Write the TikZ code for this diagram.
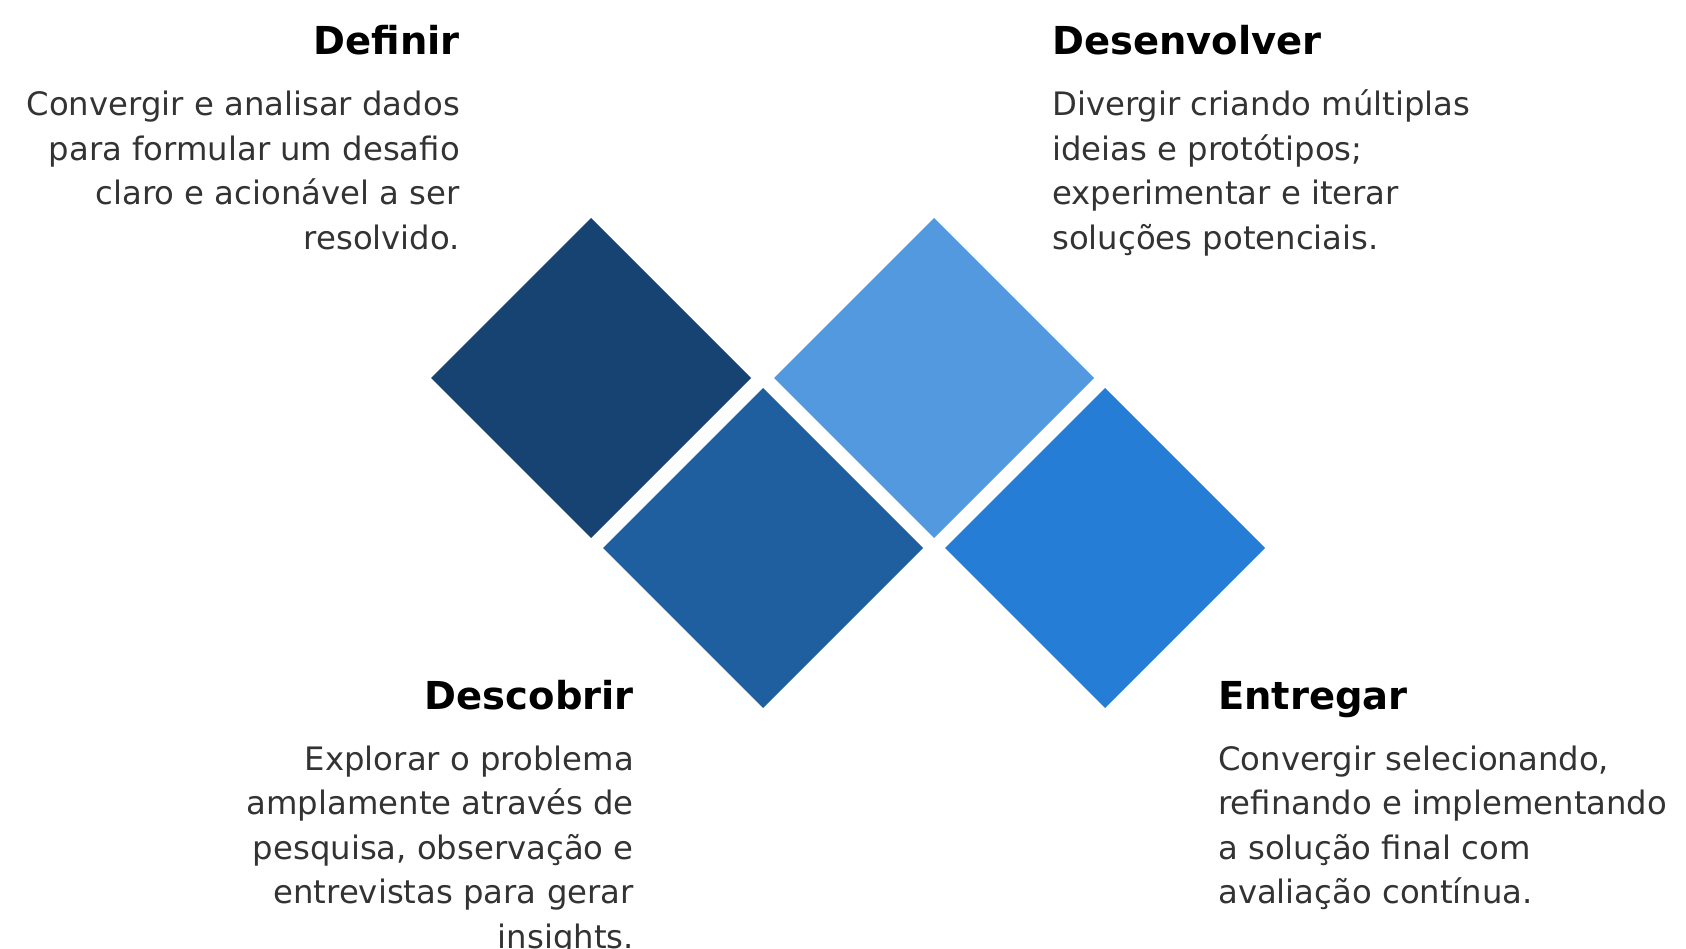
\documentclass[tikz,border=0pt]{standalone}
\usepackage{fontspec}
\setmainfont{DejaVu Sans}
\usetikzlibrary{
  shapes.geometric,
  positioning
}
\definecolor{navydark}{HTML}{174372}
\definecolor{bluemid}{HTML}{1F5FA0}
\definecolor{bluesky}{HTML}{5299E0}
\definecolor{bluebright}{HTML}{267DD5}
\definecolor{bodygray}{HTML}{333333}
\tikzset{
  x=1pt, y=-1pt,
  phase/.style={diamond, minimum size=320pt, inner sep=0pt, outer sep=0pt},
  heading/.style={font=\fontsize{38.5}{44}\selectfont\bfseries, text=black, inner sep=0pt},
  blurb/.style={font=\fontsize{32.3}{44.5}\selectfont, text=bodygray, inner sep=0pt}
}

\begin{document}
\begin{tikzpicture}
    \useasboundingbox (0,0) rectangle (1686,949);
    \node[phase, fill=navydark] (def) at (591,378) {};
    \node[phase, fill=bluemid] (desc) at (763,548) {};
    \node[phase, fill=bluesky] (dev) at (934,378) {};
    \node[phase, fill=bluebright] (ent) at (1105,548) {};
    % base of a multi-line node is its last line
    \node[heading, anchor=base east] (tdef) at (460,55) {Definir};
    \node[blurb, anchor=base east, align=right] (bdef) at (460,249.5)
      {Convergir e analisar dados\\para formular um desafio\\claro e acionável a ser\\resolvido.};
    \node[heading, anchor=base west] (tdev) at (1052,55) {Desenvolver};
    \node[blurb, anchor=base west, align=left] (bdev) at (1052,249.5)
      {Divergir criando múltiplas\\ideias e protótipos;\\experimentar e iterar\\soluções potenciais.};
    \node[heading, anchor=base east] (tdesc) at (634,709) {Descobrir};
    \node[blurb, anchor=base east, align=right] (bdesc) at (634,948)
      {Explorar o problema\\amplamente através de\\pesquisa, observação e\\entrevistas para gerar\\insights.};
    \node[heading, anchor=base west] (tent) at (1218,709) {Entregar};
    \node[blurb, anchor=base west, align=left] (bent) at (1218,903.5)
      {Convergir selecionando,\\refinando e implementando\\a solução final com\\avaliação contínua.};
\end{tikzpicture}
\end{document}
